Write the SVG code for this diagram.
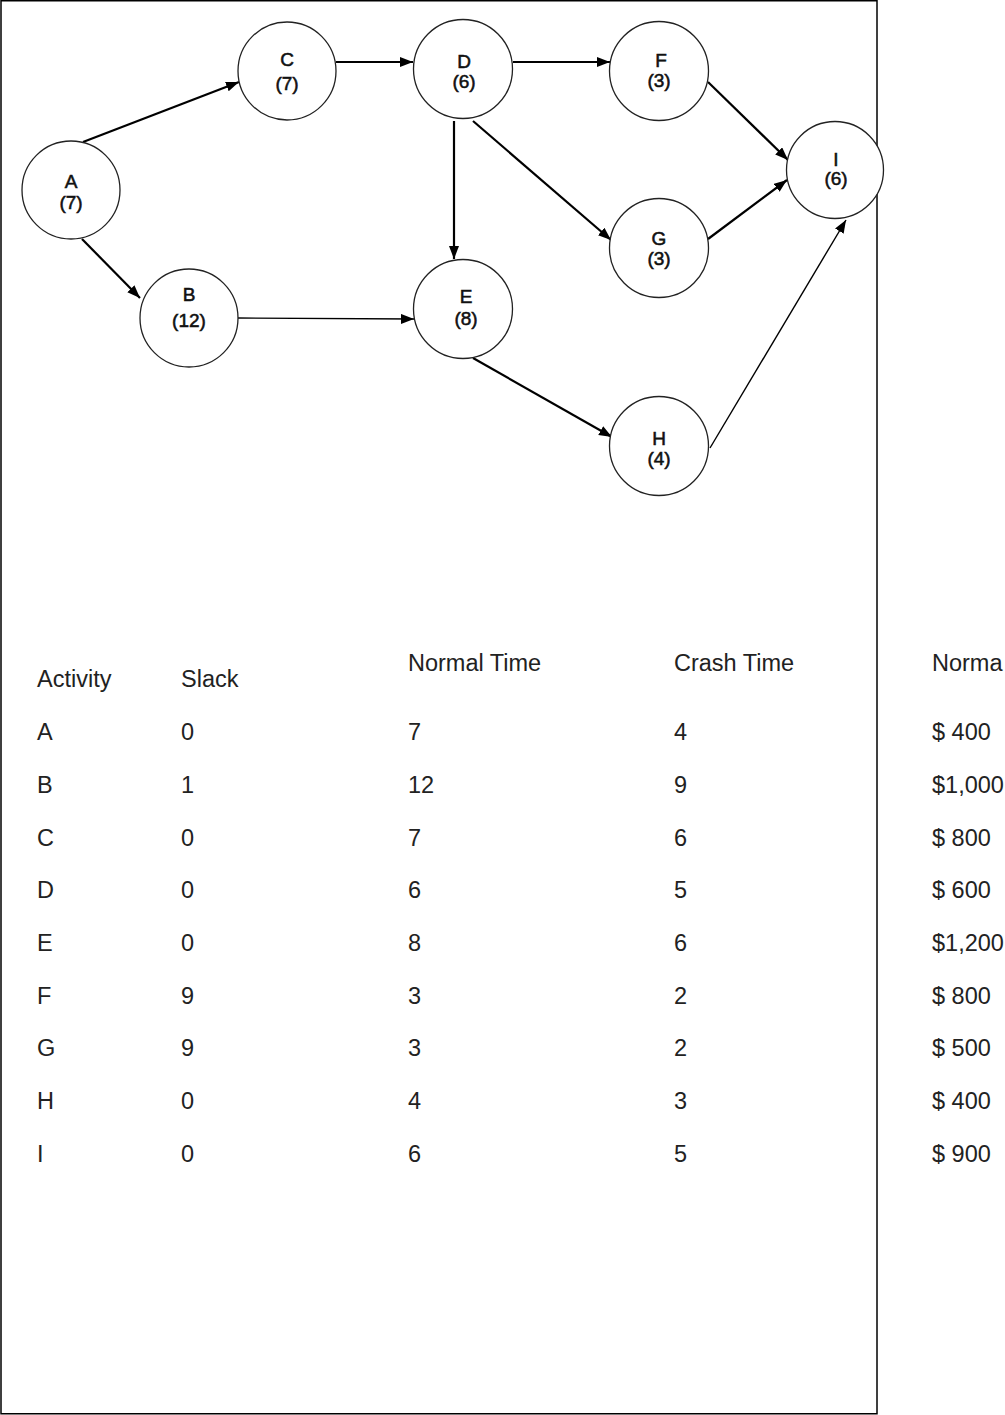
<svg xmlns="http://www.w3.org/2000/svg" width="1005" height="1415" viewBox="0 0 1005 1415">
<style>
.node circle{fill:#fff;stroke:#222;stroke-width:1.3}
.node text{font-family:"Liberation Sans",Arial,sans-serif;font-size:19px;text-anchor:middle;fill:#111;stroke:#111;stroke-width:0.55}
.conn line{stroke:#000;stroke-width:2.2;marker-end:url(#ah)}
.conn line.thin{stroke-width:1.4}
.tbl text{font-family:"Liberation Sans",Arial,sans-serif;font-size:23.5px;fill:#222}
</style>
<defs>
<marker id="ah" markerUnits="userSpaceOnUse" markerWidth="14" markerHeight="11" refX="13" refY="5" orient="auto">
<path d="M0,0 L13,5 L0,10 z" fill="#000"/>
</marker>
</defs>
<rect x="1" y="0.75" width="876" height="1413" fill="#fff" stroke="#000" stroke-width="1.5"/>
<g id="connectors" class="conn">
<line x1="83" y1="142" x2="239" y2="82"/>
<line x1="82" y1="239" x2="140" y2="298"/>
<line x1="336" y1="62" x2="413" y2="62"/>
<line x1="513" y1="62" x2="610" y2="62"/>
<line x1="454" y1="121" x2="454" y2="259"/>
<line x1="473" y1="121" x2="611" y2="240"/>
<line class="thin" x1="238" y1="318" x2="414" y2="319"/>
<line x1="473" y1="358" x2="612" y2="437"/>
<line x1="708" y1="82" x2="788" y2="160"/>
<line x1="708" y1="239" x2="787" y2="180"/>
<line class="thin" x1="710" y1="448" x2="846" y2="220"/>
</g>
<g id="node-A" class="node"><circle cx="71" cy="190" r="49"/><text x="71" y="188">A</text><text x="71" y="209">(7)</text></g>
<g id="node-B" class="node"><circle cx="189" cy="318" r="49"/><text x="189" y="301">B</text><text x="189" y="327">(12)</text></g>
<g id="node-C" class="node"><circle cx="287" cy="71" r="49"/><text x="287" y="66">C</text><text x="287" y="90">(7)</text></g>
<g id="node-D" class="node"><circle cx="463" cy="69" r="49.5"/><text x="464" y="68">D</text><text x="464" y="88">(6)</text></g>
<g id="node-E" class="node"><circle cx="463" cy="309" r="49.5"/><text x="466" y="303">E</text><text x="466" y="325">(8)</text></g>
<g id="node-F" class="node"><circle cx="659" cy="71" r="49.5"/><text x="661" y="67">F</text><text x="659" y="87">(3)</text></g>
<g id="node-G" class="node"><circle cx="659" cy="248" r="49.5"/><text x="659" y="245">G</text><text x="659" y="265">(3)</text></g>
<g id="node-H" class="node"><circle cx="659" cy="446" r="49.5"/><text x="659" y="445">H</text><text x="659" y="465">(4)</text></g>
<g id="node-I" class="node"><circle cx="835" cy="170" r="48.5"/><text x="836" y="166">I</text><text x="836" y="185">(6)</text></g>
<g id="table" class="tbl">
<text x="37" y="687">Activity</text>
<text x="181" y="687">Slack</text>
<text x="408" y="671">Normal Time</text>
<text x="674" y="671">Crash Time</text>
<text x="932" y="671">Norma</text>
<text x="37" y="740">A</text><text x="181" y="740">0</text><text x="408" y="740">7</text><text x="674" y="740">4</text><text x="932" y="740">$ 400</text>
<text x="37" y="793">B</text><text x="181" y="793">1</text><text x="408" y="793">12</text><text x="674" y="793">9</text><text x="932" y="793">$1,000</text>
<text x="37" y="846">C</text><text x="181" y="846">0</text><text x="408" y="846">7</text><text x="674" y="846">6</text><text x="932" y="846">$ 800</text>
<text x="37" y="898">D</text><text x="181" y="898">0</text><text x="408" y="898">6</text><text x="674" y="898">5</text><text x="932" y="898">$ 600</text>
<text x="37" y="951">E</text><text x="181" y="951">0</text><text x="408" y="951">8</text><text x="674" y="951">6</text><text x="932" y="951">$1,200</text>
<text x="37" y="1004">F</text><text x="181" y="1004">9</text><text x="408" y="1004">3</text><text x="674" y="1004">2</text><text x="932" y="1004">$ 800</text>
<text x="37" y="1056">G</text><text x="181" y="1056">9</text><text x="408" y="1056">3</text><text x="674" y="1056">2</text><text x="932" y="1056">$ 500</text>
<text x="37" y="1109">H</text><text x="181" y="1109">0</text><text x="408" y="1109">4</text><text x="674" y="1109">3</text><text x="932" y="1109">$ 400</text>
<text x="37" y="1162">I</text><text x="181" y="1162">0</text><text x="408" y="1162">6</text><text x="674" y="1162">5</text><text x="932" y="1162">$ 900</text>
</g>
</svg>
